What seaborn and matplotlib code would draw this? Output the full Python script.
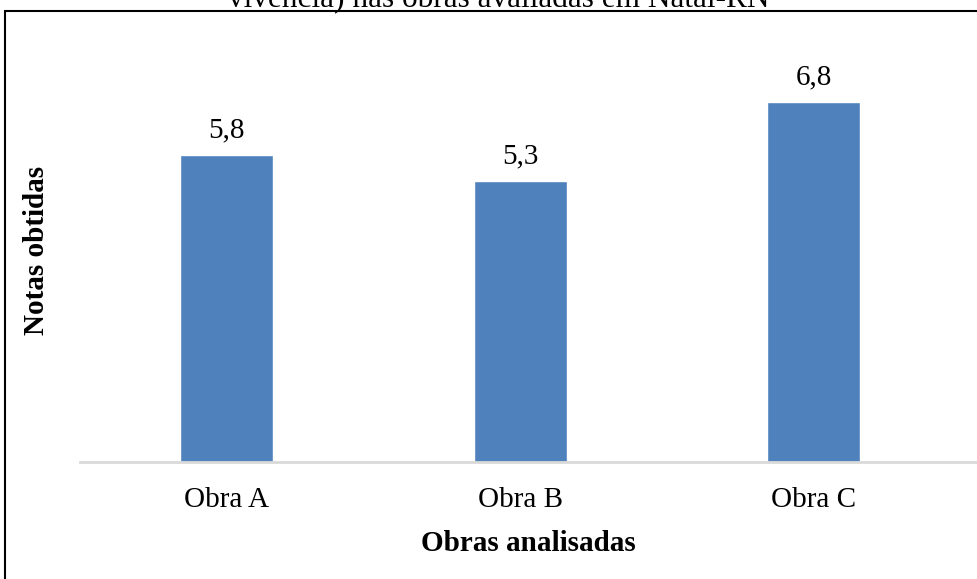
import matplotlib
matplotlib.use("Agg")
import matplotlib.pyplot as plt
import seaborn as sns
import pandas as pd
from matplotlib.patches import Rectangle

# Data
obras = ["Obra A", "Obra B", "Obra C"]
notas = [5.8, 5.3, 6.8]
rotulos = ["5,8", "5,3", "6,8"]

df = pd.DataFrame({"obra": obras, "nota": notas})

sns.set_style("white")
plt.rcParams["font.family"] = ["Liberation Serif", "DejaVu Serif"]
plt.rcParams["text.color"] = "black"
plt.rcParams["xtick.color"] = "black"

fig = plt.figure(figsize=(9.77, 5.79), dpi=100)
ax = fig.add_axes([80 / 977, 1 - 462 / 579, 897 / 977, 424 / 579])

sns.barplot(data=df, x="obra", y="nota", color="#4F81BD", saturation=1,
            width=0.317, ax=ax)

# value labels
for i, (v, txt) in enumerate(zip(notas, rotulos)):
    ax.text(i, v + 0.22, txt, ha="center", va="bottom", fontsize=21,
            color="black")

ax.set_ylim(0, 8)
ax.set_xlim(-0.5, 2.556)
ax.set_yticks([])
ax.tick_params(axis="x", length=0, labelsize=21, labelcolor="black", pad=18)
for s in ["top", "right", "left"]:
    ax.spines[s].set_visible(False)
ax.spines["bottom"].set_color("#D9D9D9")
ax.spines["bottom"].set_linewidth(2)

ax.set_xlabel("Obras analisadas", fontsize=21, fontweight="bold",
              color="black", labelpad=12)
ax.set_ylabel("")
fig.text(37 / 977, 1 - 250 / 579, "Notas obtidas", rotation=90, ha="center",
         va="center", fontsize=21, fontweight="bold", color="black")

# title partially cut off at the top of the image
fig.text(499 / 977, 1 - 7 / 579, "vivência) nas obras avaliadas em Natal-RN",
         ha="center", va="baseline", fontsize=22.5, color="black")

# frame around the chart
fig.patches.append(Rectangle((5 / 977, -0.05), 1.0, 1 - 11 / 579 + 0.05,
                             transform=fig.transFigure, fill=False,
                             edgecolor="black", linewidth=1.5))

fig.savefig("out.png", dpi=100)
